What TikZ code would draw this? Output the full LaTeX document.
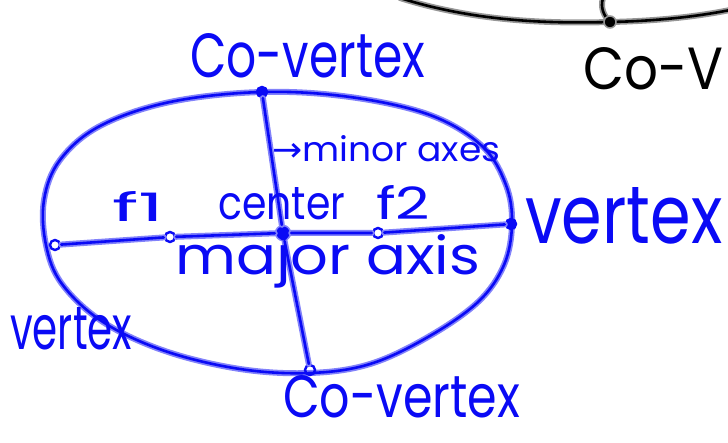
\documentclass[tikz,border=0pt]{standalone}
\usepackage{fontspec}
\setmainfont{Poppins}
\newfontfamily\symfont{DejaVu Sans}
\usepackage{graphicx}
\definecolor{ink}{RGB}{10,10,245}
\definecolor{halo}{RGB}{130,130,250}
\definecolor{blackhalo}{RGB}{150,150,150}
\tikzset{
  pen/.style={draw=ink, line width=2.6pt, line cap=round, line join=round,
    preaction={draw=halo, line width=6pt, line cap=round, line join=round}},
  blackpen/.style={draw=black, line width=2.6pt, line cap=round, line join=round,
    preaction={draw=blackhalo, line width=6pt, line cap=round, line join=round}},
  pt/.style={circle, draw=ink, line width=2.4pt, inner sep=0pt, minimum size=10pt},
  ctr/.style={circle, fill=ink, draw=halo, line width=1.5pt, inner sep=0pt, minimum size=15pt},
  lbl/.style={text=ink, inner sep=0pt},
}
% fixed-size handwritten label: width, height, text
\newcommand{\hw}[3]{\resizebox{#1pt}{#2pt}{#3}}
\begin{document}
\begin{tikzpicture}[x=1pt,y=-1pt]
\useasboundingbox (0,0) rectangle (728,443);

% partial black ellipse in the corner
\draw[blackpen] (400,-2) .. controls (470,20) and (540,24) .. (610,22)
  .. controls (660,21) and (700,16) .. (730,10);
\draw[blackpen] (603,-2) .. controls (600,8) and (604,16) .. (610,22);
\node[circle, fill=black, draw=blackhalo, line width=1.5pt, inner sep=0pt, minimum size=12pt] (bdot) at (610,22) {};
\node[anchor=south west, inner sep=0pt, text=black] (coV) at (583,90) {\hw{140}{42}{Co-V}};

% the ellipse
\draw[pen] plot[smooth cycle, tension=0.6] coordinates {
  (262,92) (350,97) (430,115) (482,146) (506,185) (512,224)
  (504,265) (478,302) (428,337) (370,364) (310,373)
  (240,369) (165,351) (103,322) (62,284) (46,245)
  (44,200) (60,160) (100,126) (170,102)};

% vertices, foci, co-vertices and center
\node[pt] (vL) at (55,245) {};
\node[pt] (f1) at (170,237) {};
\node[pt] (f2) at (378,233) {};
\node[pt, fill=ink] (vR) at (511,224) {};
\node[pt, fill=ink] (cvT) at (262,92) {};
\node[pt] (cvB) at (310,370) {};
\node[ctr] (c) at (283,233) {};

% major and minor axes
\draw[pen] (vL) -- (f1) -- (c) -- (f2) -- (vR);
\draw[pen] (cvT) -- (c) -- (cvB);

% labels
\node[lbl, anchor=south west] (tTop) at (190,78) {\hw{235}{44}{Co-vertex}};
\node[lbl, anchor=south west] (tMinor) at (272,162) {\hw{228}{26}{{\symfont →}minor axes}};
\node[lbl, anchor=south west] (tF1) at (112,222) {\hw{52}{30}{f1}};
\node[lbl, anchor=south west] (tC) at (218,220) {\hw{127}{32}{center}};
\node[lbl, anchor=south west] (tF2) at (376,220) {\hw{54}{34}{f2}};
\node[lbl, anchor=south west] (tVR) at (525,244) {\hw{197}{56}{vertex}};
\node[lbl, anchor=south west] (tMaj) at (175,288) {\hw{305}{40}{major axis}};
\node[lbl, anchor=south west] (tVL) at (10,350) {\hw{122}{42}{vertex}};
\node[lbl, anchor=south west] (tBot) at (283,418) {\hw{237}{42}{Co-vertex}};
\end{tikzpicture}
\end{document}
